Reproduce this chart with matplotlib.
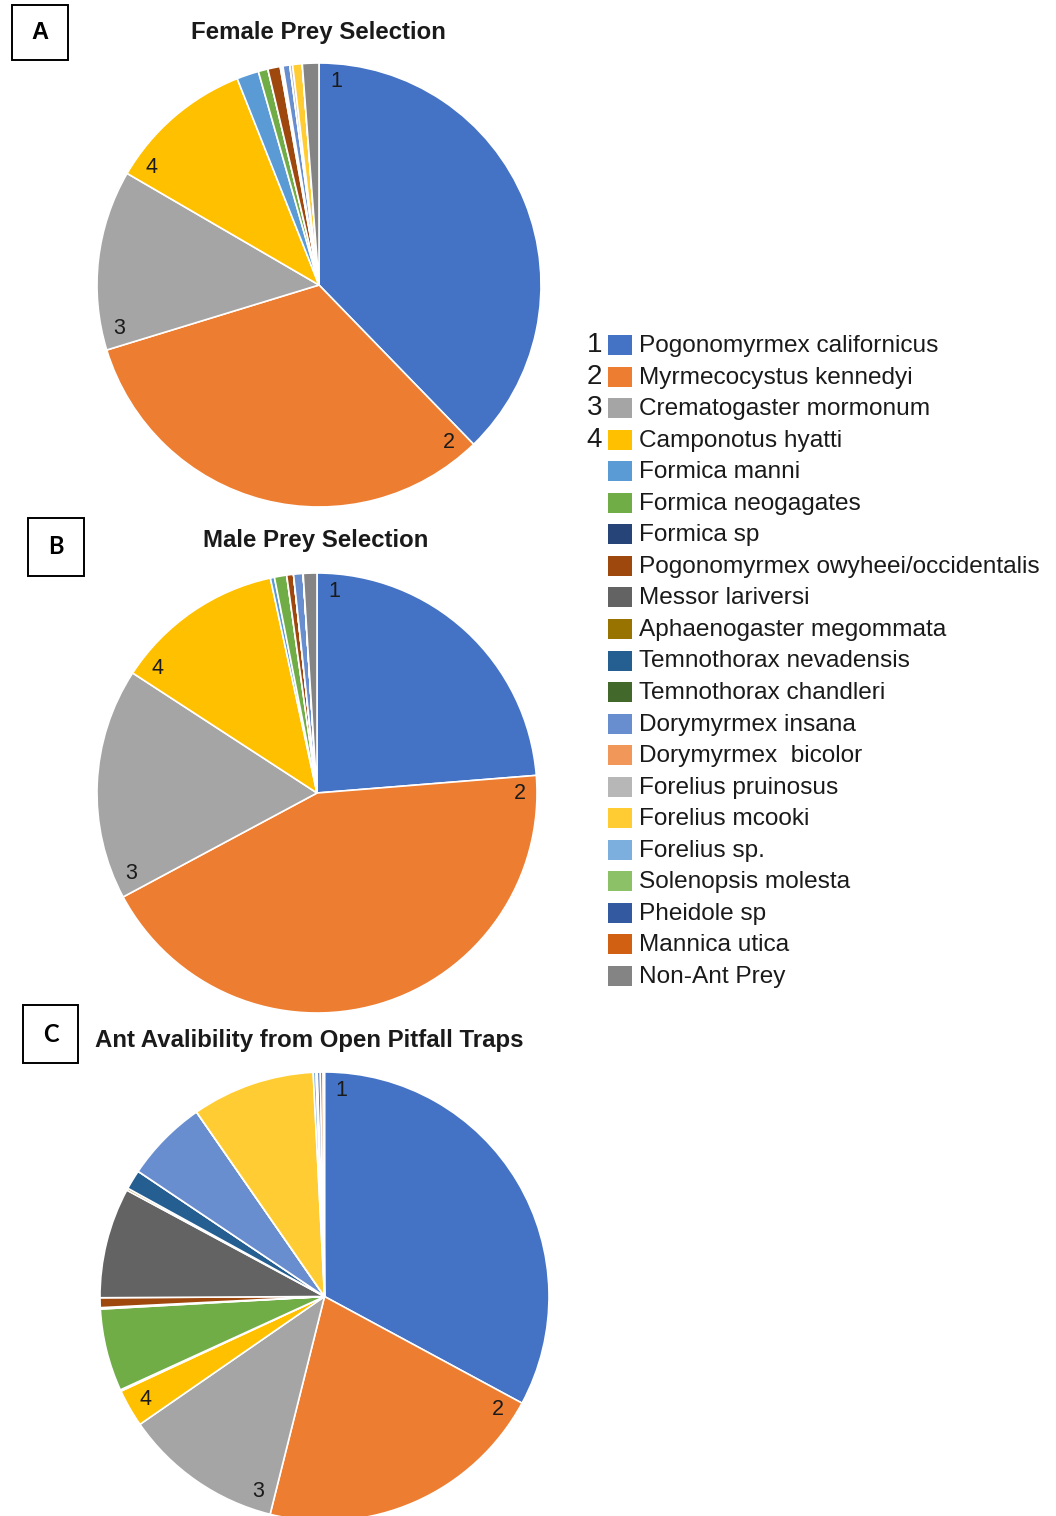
import numpy as np
import matplotlib
matplotlib.use("Agg")
import matplotlib.pyplot as plt
from matplotlib.patches import Rectangle

plt.rcParams['font.family'] = ['Liberation Sans', 'DejaVu Sans']

# ---- data -------------------------------------------------------------
species = [
    "Pogonomyrmex californicus", "Myrmecocystus kennedyi", "Crematogaster mormonum",
    "Camponotus hyatti", "Formica manni", "Formica neogagates", "Formica sp",
    "Pogonomyrmex owyheei/occidentalis", "Messor lariversi", "Aphaenogaster megommata",
    "Temnothorax nevadensis", "Temnothorax chandleri", "Dorymyrmex insana",
    "Dorymyrmex  bicolor", "Forelius pruinosus", "Forelius mcooki", "Forelius sp.",
    "Solenopsis molesta", "Pheidole sp", "Mannica utica", "Non-Ant Prey",
]
species_numbers = ["1", "2", "3", "4"]

colors = [
    "#4472C4", "#ED7D31", "#A5A5A5", "#FFC000", "#5B9BD5", "#70AD47", "#264478",
    "#9E480E", "#636363", "#997300", "#255E91", "#43682B", "#698ED0", "#F1975A",
    "#B7B7B7", "#FFCD33", "#7CAFDD", "#8CC168", "#335AA1", "#D26012", "#848484",
]

# percent of items per species
female_prey = [37.7, 32.5, 13.1, 10.6, 1.6, 0.7, 0.0, 0.9, 0.1, 0.0, 0.1,
               0.0, 0.5, 0.0, 0.2, 0.7, 0.0, 0.0, 0.0, 0.0, 1.2]
male_prey = [23.7, 43.4, 17.0, 12.4, 0.3, 0.9, 0.0, 0.5, 0.0, 0.0, 0.0,
             0.0, 0.7, 0.0, 0.0, 0.0, 0.0, 0.0, 0.0, 0.0, 1.0]
pitfall = [32.7, 20.9, 11.4, 2.7, 0.1, 5.9, 0.1, 0.7, 7.9, 0.15, 1.4,
           0.0, 5.9, 0.0, 0.0, 8.8, 0.2, 0.1, 0.2, 0.2, 0.1]

titles = ["Female Prey Selection", "Male Prey Selection",
          "Ant Avalibility from Open Pitfall Traps"]
panel_letters = ["A", "B", "C"]

# ---- figure -----------------------------------------------------------
W, H = 1056, 1516
fig = plt.figure(figsize=(W / 100, H / 100), dpi=100)


def px_axes(cx, cy, r):
    return fig.add_axes([(cx - r) / W, 1 - (cy + r) / H, 2 * r / W, 2 * r / H])


def fx(x):
    return x / W


def fy(y):
    return 1 - y / H


def draw_pie(ax, values):
    ax.pie(values, colors=colors, startangle=90, counterclock=False, radius=1,
           wedgeprops=dict(edgecolor="white", linewidth=1.2))
    ax.set_xlim(-1, 1)
    ax.set_ylim(-1, 1)
    ax.set_aspect("equal")
    ax.axis("off")
    # number the four main species just inside the start of their wedges
    v = np.asarray(values, dtype=float)
    starts = np.concatenate([[0], np.cumsum(v)[:-1]]) / v.sum() * 360
    for k, lab in enumerate(species_numbers):
        a = np.deg2rad(90 - (starts[k] + 4.8))
        ax.text(0.92 * np.cos(a), 0.92 * np.sin(a), lab, fontsize=15.5,
                ha="center", va="center", color="#1a1a1a")


pie_geom = [(319, 285, 222), (317, 793, 220), (324.5, 1296.5, 224.5)]
for (cx, cy, r), vals in zip(pie_geom, [female_prey, male_prey, pitfall]):
    draw_pie(px_axes(cx, cy, r), vals)

# titles
title_pos = [(318, 32), (316, 541), (309, 1040)]
for (tx, ty), t in zip(title_pos, titles):
    fig.text(fx(tx), fy(ty), t, fontsize=17.3, fontweight="bold",
             ha="center", va="center", color="#1a1a1a")

# panel letter boxes
boxes = [(12, 5, 68, 60), (28, 518, 84, 576), (23, 1005, 78, 1063)]
for (x0, y0, x1, y1), letter in zip(boxes, panel_letters):
    fig.patches.append(Rectangle((fx(x0), fy(y1)), fx(x1 - x0), (y1 - y0) / H,
                                 transform=fig.transFigure, fill=False,
                                 edgecolor="black", linewidth=1.4))
    fig.text(fx((x0 + x1) / 2), fy((y0 + y1) / 2), letter, fontsize=17,
             fontweight="bold", ha="center", va="center",
             family=["Lato", "DejaVu Sans"] if letter != "A" else None)

# legend
y_first, y_step = 345, 31.55
for i, (name, c) in enumerate(zip(species, colors)):
    yc = y_first + i * y_step
    fig.patches.append(Rectangle((fx(608), fy(yc + 10)), fx(24), 20 / H,
                                 transform=fig.transFigure, facecolor=c,
                                 edgecolor="none"))
    fig.text(fx(639), fy(yc + 1), name, fontsize=17.6, ha="left", va="center",
             color="#1a1a1a")
    if i < len(species_numbers):
        fig.text(fx(602), fy(yc), species_numbers[i], fontsize=20,
                 ha="right", va="center", color="#1a1a1a")

fig.savefig("out.png", dpi=100, facecolor="white")
